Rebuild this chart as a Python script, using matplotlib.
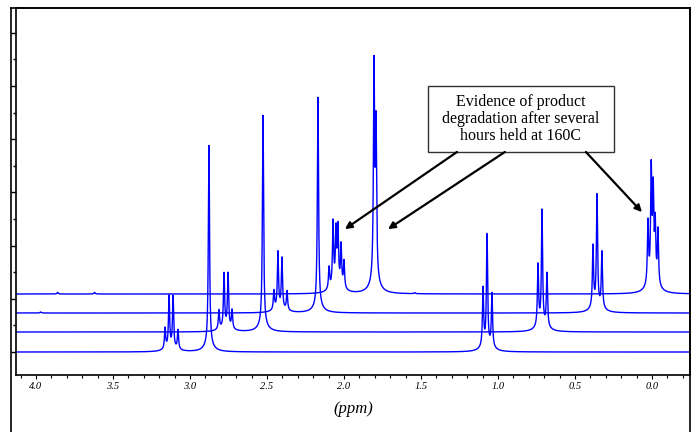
import matplotlib
matplotlib.use("Agg")
import matplotlib.pyplot as plt
from matplotlib.lines import Line2D
from matplotlib.patches import Rectangle
from matplotlib.ticker import MultipleLocator, FormatStrFormatter
import numpy as np

# Stacked 1H NMR traces: peak positions (ppm) and heights (intensity units)
trace1_ppm = [3.86, 3.62, 2.097, 2.071, 2.052, 2.039, 2.019, 2.000, 1.805, 1.792, 1.54,
              0.026, 0.005, -0.008, -0.021, -0.039]
trace1_height = [0.3, 0.3, 4.2, 12.5, 10.5, 11.0, 8.0, 5.2, 41.0, 29.0, 0.2,
                 12.0, 21.5, 17.0, 11.0, 10.5]
trace2_ppm = [3.97, 2.455, 2.429, 2.403, 2.370, 2.169, 0.383, 0.357, 0.325]
trace2_height = [0.2, 3.7, 11.0, 9.8, 3.7, 40.5, 11.8, 21.5, 10.8]
trace3_ppm = [2.812, 2.779, 2.753, 2.727, 2.526, 0.740, 0.714, 0.682]
trace3_height = [3.7, 10.5, 10.5, 3.6, 40.7, 11.8, 22.2, 10.3]
trace4_ppm = [3.162, 3.136, 3.110, 3.078, 2.877, 1.097, 1.071, 1.039]
trace4_height = [4.0, 10.0, 10.0, 3.7, 38.8, 11.2, 21.4, 10.3]
baselines = [10.9, 7.33, 3.76, 0.0]

annotation = "Evidence of product\ndegradation after several\nhours held at 160C"

ppm = np.linspace(4.2, -0.3, 40000)


def spectrum(pos, hts, w1=0.0045, w2=0.035):
    y = np.zeros_like(ppm)
    for p, h in zip(pos, hts):
        d2 = (ppm - p) ** 2
        y += h * (0.97 * w1 ** 2 / (d2 + w1 ** 2) + 0.03 * w2 ** 2 / (d2 + w2 ** 2))
    return y


fig = plt.figure(figsize=(6.98, 4.32), dpi=100)
W, H = 698, 432
ax = fig.add_axes([16 / W, (H - 375) / H, (690 - 16) / W, (375 - 8) / H])

traces = [(trace1_ppm, trace1_height), (trace2_ppm, trace2_height),
          (trace3_ppm, trace3_height), (trace4_ppm, trace4_height)]
for (pos, hts), base in zip(traces, baselines):
    ax.plot(ppm, base + spectrum(pos, hts), color="#0000ff", lw=1.0)

ax.set_xlim(4.13, -0.247)
ax.set_ylim(-4.32, 64.66)

serif = "Liberation Serif"
ax.xaxis.set_major_locator(MultipleLocator(0.5))
ax.xaxis.set_minor_locator(MultipleLocator(0.1))
ax.xaxis.set_major_formatter(FormatStrFormatter("%.1f"))
ax.yaxis.set_major_locator(MultipleLocator(10))
ax.yaxis.set_minor_locator(MultipleLocator(5))
ax.tick_params(axis="x", which="major", direction="out", length=3, width=0.8, pad=2,
               labelsize=7.5)
ax.tick_params(axis="x", which="minor", direction="out", length=2, width=0.8)
ax.tick_params(axis="y", which="major", direction="out", length=3.6, width=1,
               labelleft=False)
ax.tick_params(axis="y", which="minor", direction="out", length=2.2, width=1)
for lab in ax.get_xticklabels():
    lab.set_fontfamily(serif)
    lab.set_fontstyle("italic")
ax.set_xlabel("(ppm)", fontsize=12, fontfamily=serif, fontstyle="italic", labelpad=7)
for s in ax.spines.values():
    s.set_linewidth(1.2)

# annotation box with arrows
ax.add_patch(Rectangle((0.247, 37.6), 1.208, 12.4, fc="white", ec="#333333", lw=1,
                       zorder=3))
ax.text(0.851, 43.8, annotation, ha="center", va="center", fontsize=11.5,
        fontfamily=serif, linespacing=1.05, zorder=4)
arrow = dict(arrowstyle="-|>", color="black", lw=1.6, mutation_scale=10,
             shrinkA=0, shrinkB=0)
ax.annotate("", xy=(1.994, 23.1), xytext=(1.266, 37.6), arrowprops=arrow)
ax.annotate("", xy=(1.714, 23.1), xytext=(0.955, 37.6), arrowprops=arrow)
ax.annotate("", xy=(0.065, 26.3), xytext=(0.429, 37.6), arrowprops=arrow)

# outer frame
fig.add_artist(Line2D([11.5 / W, 11.5 / W], [0, (H - 8) / H], color="black", lw=1.2))
fig.add_artist(Line2D([11.5 / W, 690 / W], [(H - 8) / H, (H - 8) / H], color="black", lw=1.2))
fig.add_artist(Line2D([690 / W, 690 / W], [0, (H - 8) / H], color="black", lw=1.2))

fig.savefig("out.png", dpi=100)
